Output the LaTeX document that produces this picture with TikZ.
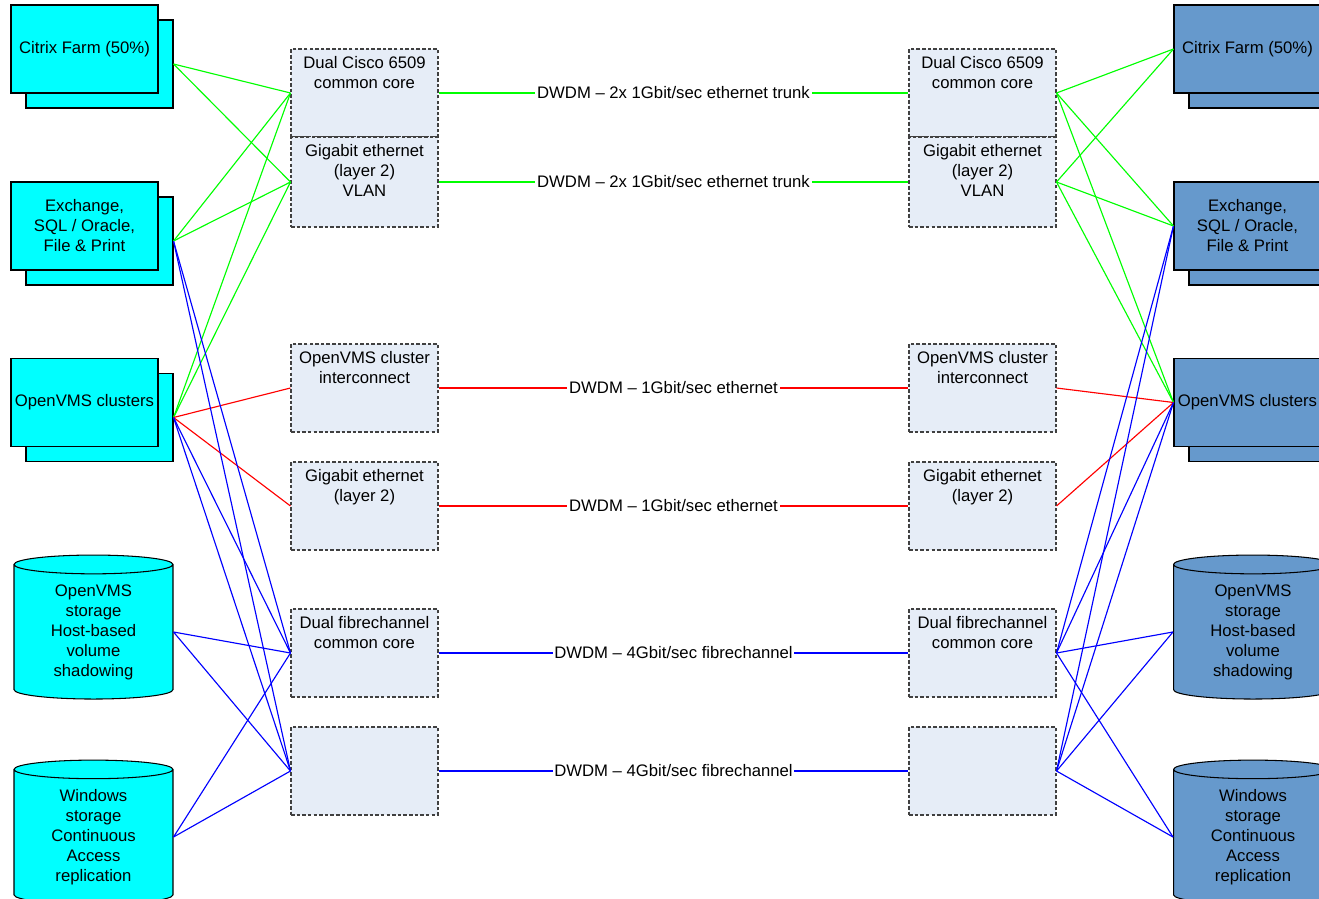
\documentclass[tikz,border=0pt]{standalone}
\usepackage{fontspec}
\setmainfont{Liberation Sans}
\usepackage{tikz}
\usetikzlibrary{shapes.geometric, positioning, calc}
\definecolor{servercyan}{RGB}{0, 255, 255}
\definecolor{serverblue}{RGB}{102, 153, 204}
\definecolor{linkfill}{RGB}{230, 237, 247}
\definecolor{linkgreen}{RGB}{0, 255, 0}
\definecolor{linkred}{RGB}{255, 0, 0}
\definecolor{linkblue}{RGB}{0, 0, 255}

\begin{document}
\begin{tikzpicture}[
    x=0.02cm, y=-0.02cm,
    every node/.style={font=\fontsize{9.5}{11.4}\selectfont},
    server/.style={rectangle, draw=black, fill=#1, line width=0.6pt,
                   minimum width=2.94cm, minimum height=1.76cm, align=center, inner sep=0pt},
    storage/.style={cylinder, shape border rotate=90, aspect=0.22, draw=black, fill=#1,
                    line width=0.6pt, minimum width=3.18cm, minimum height=2.88cm,
                    align=center, inner sep=0pt},
    linkbox/.style={rectangle, draw=black!75, dash pattern=on 2pt off 1.2pt, fill=linkfill,
                    line width=0.6pt, minimum width=2.94cm, minimum height=1.76cm},
    boxtext/.style={anchor=north, align=center, yshift=-0.04cm},
    trunk/.style={draw=#1, line width=0.65pt},
    dwdm/.style={fill=white, inner sep=1pt}
]
    \clip[use as bounding box] (0,0) rectangle (1319,899);

    % Site A servers and storage
    \node[server=servercyan] (citrixLb) at (99.5, 64) {};
    \node[server=servercyan] (citrixL) at (84.5, 49) {Citrix Farm (50\%)};
    \node[server=servercyan] (exchLb) at (99.5, 241) {};
    \node[server=servercyan] (exchL) at (84.5, 226) {Exchange,\\SQL / Oracle,\\File \& Print};
    \node[server=servercyan] (vmsLb) at (99.5, 417.5) {};
    \node[server=servercyan] (vmsL) at (84.5, 402.5) {OpenVMS clusters};
    \node[storage=servercyan] (vmsstoreL) at (93.5, 632) {OpenVMS\\storage\\Host-based\\volume\\shadowing};
    \node[storage=servercyan] (winstoreL) at (93.5, 837) {Windows\\storage\\Continuous\\Access\\replication};

    % Site B servers and storage
    \node[server=serverblue] (citrixRb) at (1262.5, 64) {};
    \node[server=serverblue] (citrixR) at (1247.5, 49) {Citrix Farm (50\%)};
    \node[server=serverblue] (exchRb) at (1262.5, 241) {};
    \node[server=serverblue] (exchR) at (1247.5, 226) {Exchange,\\SQL / Oracle,\\File \& Print};
    \node[server=serverblue] (vmsRb) at (1262.5, 417.5) {};
    \node[server=serverblue] (vmsR) at (1247.5, 402.5) {OpenVMS clusters};
    \node[storage=serverblue] (vmsstoreR) at (1253, 632) {OpenVMS\\storage\\Host-based\\volume\\shadowing};
    \node[storage=serverblue] (winstoreR) at (1253, 837) {Windows\\storage\\Continuous\\Access\\replication};

    % Interconnect boxes, both sites
    \foreach \side/\x in {L/364.5, R/982.5} {
        \node[linkbox] (cisco\side) at (\x, 93) {};
        \node[linkbox, minimum height=1.8cm] (vlan\side) at (\x, 182) {};
        \node[linkbox] (ic\side) at (\x, 388) {};
        \node[linkbox] (gig\side) at (\x, 506) {};
        \node[linkbox] (fc\side) at (\x, 653) {};
        \node[linkbox] (san\side) at (\x, 771) {};
        \node[boxtext] (cisco\side t) at (cisco\side.north) {Dual Cisco 6509\\common core};
        \node[boxtext] (vlan\side t) at (vlan\side.north) {Gigabit ethernet\\(layer 2)\\VLAN};
        \node[boxtext] (ic\side t) at (ic\side.north) {OpenVMS cluster\\interconnect};
        \node[boxtext] (gig\side t) at (gig\side.north) {Gigabit ethernet\\(layer 2)};
        \node[boxtext] (fc\side t) at (fc\side.north) {Dual fibrechannel\\common core};
    }

    % Site A links
    \foreach \s in {citrixLb, exchLb, vmsLb}
        \foreach \t in {ciscoL, vlanL}
            \draw[trunk=linkgreen] (\s.east) -- (\t.west);
    \foreach \t in {icL, gigL}
        \draw[trunk=linkred] (vmsLb.east) -- (\t.west);
    \foreach \s in {exchLb, vmsLb, vmsstoreL, winstoreL}
        \foreach \t in {fcL, sanL}
            \draw[trunk=linkblue] (\s.east) -- (\t.west);

    % Site B links
    \foreach \s in {ciscoR, vlanR}
        \foreach \t in {citrixR, exchR, vmsR}
            \draw[trunk=linkgreen] (\s.east) -- (\t.west);
    \foreach \s in {icR, gigR}
        \draw[trunk=linkred] (\s.east) -- (vmsR.west);
    \foreach \s in {fcR, sanR}
        \foreach \t in {exchR, vmsR, vmsstoreR, winstoreR}
            \draw[trunk=linkblue] (\s.east) -- (\t.west);

    % DWDM trunks between sites
    \draw[trunk=linkgreen] (ciscoL.east) -- node[dwdm] (dwdm1) {DWDM -- 2x 1Gbit/sec ethernet trunk} (ciscoR.west);
    \draw[trunk=linkgreen] (vlanL.east) -- node[dwdm] (dwdm2) {DWDM -- 2x 1Gbit/sec ethernet trunk} (vlanR.west);
    \draw[trunk=linkred] (icL.east) -- node[dwdm] (dwdm3) {DWDM -- 1Gbit/sec ethernet} (icR.west);
    \draw[trunk=linkred] (gigL.east) -- node[dwdm] (dwdm4) {DWDM -- 1Gbit/sec ethernet} (gigR.west);
    \draw[trunk=linkblue] (fcL.east) -- node[dwdm] (dwdm5) {DWDM -- 4Gbit/sec fibrechannel} (fcR.west);
    \draw[trunk=linkblue] (sanL.east) -- node[dwdm] (dwdm6) {DWDM -- 4Gbit/sec fibrechannel} (sanR.west);
\end{tikzpicture}
\end{document}
